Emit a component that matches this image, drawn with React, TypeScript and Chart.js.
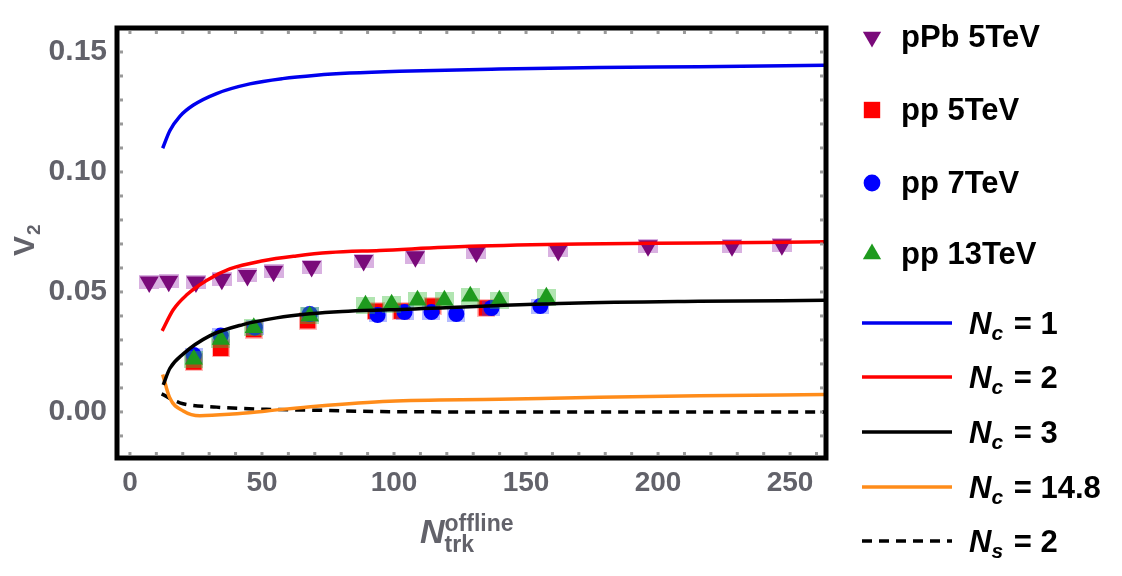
import { useEffect, useRef } from 'react';
import { Chart, registerables } from 'chart.js';

Chart.register(...registerables);

// Ejes
const xTicks = [0, 50, 100, 150, 200, 250];
const yTicks = [0, 0.05, 0.1, 0.15];
const X_MIN = -4.9;
const X_MAX = 263.6;
const Y_MIN = -0.0192;
const Y_MAX = 0.16;

// Datos experimentales
const pPbX = [7.3, 14.7, 25.0, 34.8, 44.5, 54.4, 68.8, 88.5, 108.1, 131.2, 162.2, 196.2, 228.0, 246.9];
const pPbY = [0.0541, 0.0545, 0.0541, 0.0553, 0.0569, 0.0586, 0.0606, 0.0631, 0.0647, 0.0666, 0.0673, 0.0693, 0.0693, 0.0697];

const pp5X = [24.2, 34.4, 46.9, 67.3, 93.0, 102.8, 114.6, 135.0];
const pp5Y = [0.0208, 0.0265, 0.0343, 0.038, 0.042, 0.042, 0.0441, 0.0433];

const pp7X = [24.2, 34.4, 47.3, 68.1, 93.8, 104.0, 114.2, 123.6, 136.9, 155.4];
const pp7Y = [0.0237, 0.0318, 0.0351, 0.0408, 0.0404, 0.0416, 0.0416, 0.0408, 0.0433, 0.0441];

const pp13X = [24.2, 34.4, 46.9, 68.1, 89.2, 99.1, 108.9, 119.1, 128.9, 139.9, 157.7];
const pp13Y = [0.022, 0.0302, 0.0351, 0.04, 0.0445, 0.0449, 0.0465, 0.0465, 0.0482, 0.0465, 0.0478];

// Curvas teóricas
const nc1X = [12.4, 15.1, 18.9, 23.9, 32.8, 45.4, 57.8, 70.6, 83.2, 102.1, 139.9, 177.7, 215.5, 263.1];
const nc1Y = [0.1099, 0.1172, 0.1232, 0.1278, 0.1327, 0.1367, 0.1389, 0.1403, 0.1412, 0.142, 0.1429, 0.1435, 0.1439, 0.1445];

const nc2X = [12.2, 16.4, 21.4, 29.0, 37.8, 50.4, 63.0, 75.6, 94.5, 128.5, 170.1, 215.5, 263.1];
const nc2Y = [0.0338, 0.0426, 0.0487, 0.0548, 0.0596, 0.063, 0.065, 0.0664, 0.0673, 0.069, 0.07, 0.0704, 0.0709];

const nc3X = [12.6, 15.1, 20.2, 30.2, 42.8, 55.5, 68.1, 80.5, 98.3, 166.4, 215.5, 263.1];
const nc3Y = [0.0113, 0.0181, 0.0242, 0.0317, 0.0364, 0.0392, 0.0409, 0.0419, 0.0426, 0.0453, 0.0461, 0.0465];

const nc148X = [12.4, 15.1, 20.2, 26.5, 38.9, 51.7, 70.6, 98.3, 139.9, 177.7, 215.5, 263.1];
const nc148Y = [0.0156, 0.0058, 0.0004, -0.0016, -0.0009, 0.0004, 0.0024, 0.0045, 0.0053, 0.0061, 0.0067, 0.0073];

const ns2X = [12.0, 18.9, 32.8, 51.7, 70.6, 98.3, 139.9, 263.1];
const ns2Y = [0.0075, 0.0038, 0.002, 0.0011, 0.0007, 0.0001, 0.0, 0.0];

// Leyenda
const markerLabels = ['pPb 5TeV', 'pp 5TeV', 'pp 7TeV', 'pp 13TeV'];
const curveSymbols = ['c', 'c', 'c', 'c', 's'];
const curveValues = ['1', '2', '3', '14.8', '2'];

const FONT = '"Liberation Sans", Arial, sans-serif';
const GRAY = '#62626a';

const toPts = (xs: number[], ys: number[]) => xs.map((x, i) => ({ x, y: ys[i] }));

function makeBox(w: number, h: number, color: string) {
  const c = document.createElement('canvas');
  c.width = w;
  c.height = h;
  const g = c.getContext('2d')!;
  g.fillStyle = color;
  g.fillRect(0, 0, w, h);
  return c;
}

function drawMarker(ctx: CanvasRenderingContext2D, kind: string, x: number, y: number, r: number, color: string) {
  ctx.fillStyle = color;
  ctx.beginPath();
  if (kind === 'down') {
    ctx.moveTo(x - r * 0.87, y - r * 0.5);
    ctx.lineTo(x + r * 0.87, y - r * 0.5);
    ctx.lineTo(x, y + r);
  } else if (kind === 'up') {
    ctx.moveTo(x - r * 0.87, y + r * 0.5);
    ctx.lineTo(x + r * 0.87, y + r * 0.5);
    ctx.lineTo(x, y - r);
  } else if (kind === 'rect') {
    ctx.rect(x - r * 0.78, y - r * 0.78, r * 1.56, r * 1.56);
  } else {
    ctx.arc(x, y, r * 0.8, 0, Math.PI * 2);
  }
  ctx.closePath();
  ctx.fill();
}

const decor = {
  id: 'decor',
  afterDraw(chart: any) {
    const { ctx, chartArea: a, scales } = chart;
    ctx.save();

    // marcas menores
    ctx.fillStyle = '#9a9a9a';
    for (let v = 0; v <= 260; v += 10) {
      const px = scales.x.getPixelForValue(v);
      ctx.fillRect(px - 1.5, a.bottom - 6, 3, 3);
      ctx.fillRect(px - 1.5, a.top + 3, 3, 3);
    }
    for (let i = -1; i <= 16; i++) {
      const py = scales.y.getPixelForValue(i / 100);
      ctx.fillRect(a.left + 3, py - 1.5, 3, 3);
      ctx.fillRect(a.right - 6, py - 1.5, 3, 3);
    }

    // marco
    ctx.strokeStyle = '#000';
    ctx.lineWidth = 5;
    ctx.strokeRect(a.left, a.top, a.right - a.left, a.bottom - a.top);

    // título eje y
    ctx.fillStyle = GRAY;
    ctx.textBaseline = 'alphabetic';
    ctx.textAlign = 'left';
    ctx.translate(34, 256);
    ctx.rotate(-Math.PI / 2);
    ctx.font = `bold 30px ${FONT}`;
    ctx.fillText('V', 0, 0);
    const vw = ctx.measureText('V').width;
    ctx.font = `bold 19px ${FONT}`;
    ctx.fillText('2', vw + 1, 6);
    ctx.setTransform(1, 0, 0, 1, 0, 0);

    // título eje x
    ctx.font = `italic bold 34px ${FONT}`;
    ctx.fillText('N', 420, 543);
    const nw = ctx.measureText('N').width;
    ctx.font = `bold 23px ${FONT}`;
    ctx.fillText('offline', 420 + nw, 531);
    ctx.fillText('trk', 420 + nw, 552);

    // leyenda: marcadores
    const kinds = ['down', 'rect', 'circle', 'up'];
    const colors = ['#7a0a7a', '#ff0000', '#0000ff', '#1e9a1e'];
    const rowsM = [37, 110, 183, 254];
    ctx.textBaseline = 'middle';
    markerLabels.forEach((lab, i) => {
      drawMarker(ctx, kinds[i], 872, rowsM[i], 10.5, colors[i]);
      ctx.fillStyle = '#000';
      ctx.font = `bold 31px ${FONT}`;
      ctx.fillText(lab, 901, rowsM[i] + 1);
    });

    // leyenda: curvas
    const lineColors = ['#0000ee', '#ff0000', '#000000', '#ff8c1a', '#000000'];
    const rowsL = [323, 377, 432, 487, 541];
    curveValues.forEach((val, i) => {
      const y = rowsL[i];
      ctx.strokeStyle = lineColors[i];
      ctx.lineWidth = 3.5;
      ctx.setLineDash(i === 4 ? [10, 7] : []);
      ctx.beginPath();
      ctx.moveTo(862, y);
      ctx.lineTo(952, y);
      ctx.stroke();
      ctx.setLineDash([]);
      ctx.fillStyle = '#000';
      ctx.textBaseline = 'alphabetic';
      ctx.font = `italic bold 31px ${FONT}`;
      ctx.fillText('N', 969, y + 11);
      let x = 969 + ctx.measureText('N').width;
      ctx.font = `italic bold 21px ${FONT}`;
      ctx.fillText(curveSymbols[i], x, y + 17);
      x += ctx.measureText(curveSymbols[i]).width;
      ctx.font = `bold 31px ${FONT}`;
      ctx.fillText(' = ' + val, x + 2, y + 11);
    });

    ctx.restore();
  },
};

export default function App() {
  const canvasRef = useRef<HTMLCanvasElement>(null);

  useEffect(() => {
    document.body.style.margin = '0';
    if (!canvasRef.current) return;

    const curve = (xs: number[], ys: number[], color: string, dash: number[] = []) => ({
      data: toPts(xs, ys),
      showLine: true,
      borderColor: color,
      borderWidth: 3.5,
      borderDash: dash,
      pointRadius: 0,
      cubicInterpolationMode: 'monotone' as const,
      order: 0,
    });

    const boxes = (xs: number[], ys: number[], img: HTMLCanvasElement, order: number) => ({
      data: toPts(xs, ys),
      pointStyle: img,
      pointRadius: 10,
      showLine: false,
      order,
    });

    const marks = (xs: number[], ys: number[], style: string, radius: number, color: string, order: number, rotation = 0) => ({
      data: toPts(xs, ys),
      pointStyle: style,
      pointRadius: radius,
      rotation,
      backgroundColor: color,
      borderWidth: 0,
      showLine: false,
      order,
    });

    const chart = new Chart(canvasRef.current, {
      type: 'scatter',
      data: {
        datasets: [
          curve(nc1X, nc1Y, '#0000ee'),
          curve(nc2X, nc2Y, '#ff0000'),
          curve(nc3X, nc3Y, '#000000'),
          curve(nc148X, nc148Y, '#ff8c1a'),
          curve(ns2X, ns2Y, '#000000', [10, 7]),
          marks(pp13X, pp13Y, 'triangle', 10.5, '#1e9a1e', 1),
          boxes(pp13X, pp13Y, makeBox(19, 17, 'rgba(60,190,60,0.4)'), 2),
          marks(pp7X, pp7Y, 'circle', 8, '#0000ff', 3),
          boxes(pp7X, pp7Y, makeBox(18, 15, 'rgba(40,60,255,0.35)'), 4),
          marks(pp5X, pp5Y, 'rect', 11, '#ff0000', 5),
          boxes(pp5X, pp5Y, makeBox(18, 18, 'rgba(255,60,60,0.35)'), 6),
          marks(pPbX, pPbY, 'triangle', 11, '#7a0a7a', 7, 180),
          boxes(pPbX, pPbY, makeBox(20, 14, 'rgba(160,60,180,0.4)'), 8),
        ] as any,
      },
      options: {
        responsive: false,
        animation: false,
        layout: { padding: { top: 19, right: 296, left: 0, bottom: 0 } },
        plugins: {
          legend: { display: false },
          tooltip: { enabled: false },
        },
        scales: {
          x: {
            type: 'linear',
            min: X_MIN,
            max: X_MAX,
            afterBuildTicks: (s: any) => {
              s.ticks = xTicks.map((v) => ({ value: v }));
            },
            afterFit: (s: any) => {
              s.height = 118;
            },
            grid: { display: false, drawTicks: false },
            border: { display: false },
            ticks: {
              padding: 8,
              color: GRAY,
              font: { family: FONT, size: 28, weight: 'bold' },
              maxRotation: 0,
            },
          },
          y: {
            type: 'linear',
            min: Y_MIN,
            max: Y_MAX,
            afterBuildTicks: (s: any) => {
              s.ticks = yTicks.map((v) => ({ value: v }));
            },
            afterFit: (s: any) => {
              s.width = 117;
            },
            grid: { display: false, drawTicks: false },
            border: { display: false },
            ticks: {
              padding: 10,
              color: GRAY,
              font: { family: FONT, size: 30, weight: 'bold' },
              callback: (v: any) => Number(v).toFixed(2),
            },
          },
        },
      },
      plugins: [decor],
    });

    return () => {
      chart.destroy();
    };
  }, []);

  return (
    <div style={{ width: 1122, height: 576, background: '#fff' }}>
      <canvas ref={canvasRef} width={1122} height={576}></canvas>
    </div>
  );
}
